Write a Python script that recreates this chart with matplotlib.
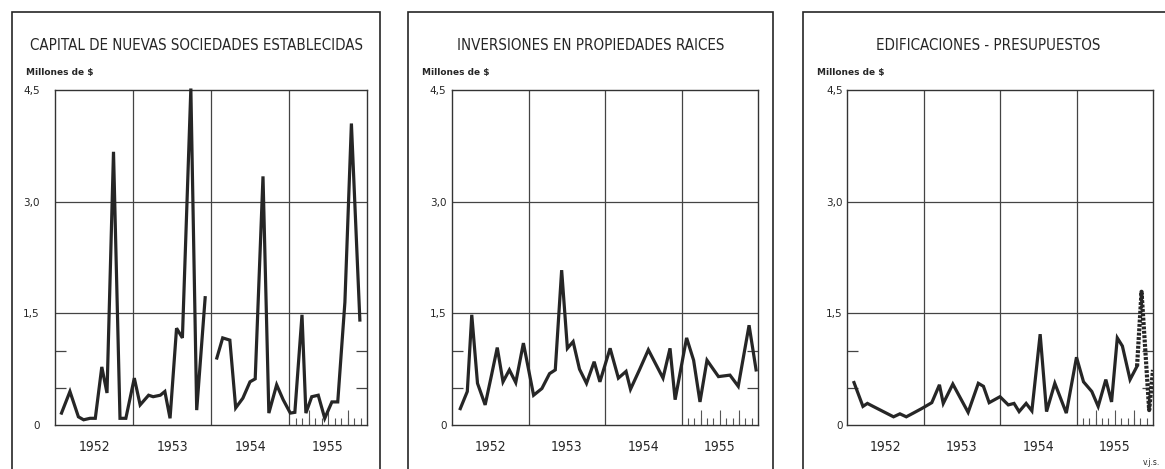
import numpy as np
import matplotlib
matplotlib.use("Agg")
import matplotlib.pyplot as plt
from matplotlib.patches import Rectangle
from matplotlib import font_manager as fm

# Datos (mes desde enero 1952, millones de $)
cap_mes = [1.0, 2.3, 3.6, 4.4, 5.4, 6.2, 7.2, 8.0, 9.0, 10.0, 10.9, 12.2, 13.1, 14.4, 15.1,
           16.2, 16.9, 17.7, 18.7, 19.6, 20.9, 21.8, 23.1, 24.0,
           24.9, 25.8, 26.9, 27.8, 28.9, 30.0, 30.8, 32.0, 32.9, 34.1, 35.1, 36.2, 36.9,
           38.0, 38.6, 39.5, 40.5, 41.5, 42.6, 43.5, 44.6, 45.6, 46.9]
cap_val = [0.16, 0.45, 0.11, 0.07, 0.09, 0.09, 0.78, 0.43, 3.67, 0.09, 0.09, 0.63, 0.27, 0.40, 0.38,
           0.40, 0.45, 0.09, 1.30, 1.17, 4.52, 0.20, 1.71, np.nan,
           0.90, 1.17, 1.14, 0.23, 0.36, 0.58, 0.62, 3.34, 0.16, 0.54, 0.34, 0.16, 0.17,
           1.48, 0.16, 0.38, 0.40, 0.09, 0.31, 0.31, 1.65, 4.05, 1.41]

inv_mes = [1.3, 2.4, 3.1, 4.0, 5.2, 6.2, 7.1, 8.0, 9.0, 10.0, 11.2, 12.8, 14.1, 15.3, 16.2,
           17.2, 18.1, 19.0, 20.0, 21.1, 22.3, 23.2, 24.8, 26.1, 27.3, 28.0, 29.4, 30.8,
           33.1, 34.2, 35.0, 36.8, 37.9, 38.9, 40.0, 41.8, 43.6, 44.9, 46.6, 47.7]
inv_val = [0.22, 0.45, 1.48, 0.56, 0.27, 0.67, 1.04, 0.58, 0.74, 0.57, 1.10, 0.40, 0.49, 0.69, 0.74,
           2.08, 1.03, 1.12, 0.75, 0.56, 0.85, 0.58, 1.03, 0.63, 0.72, 0.48, 0.74, 1.01,
           0.63, 1.03, 0.34, 1.17, 0.87, 0.31, 0.87, 0.65, 0.67, 0.52, 1.34, 0.74]

edi_mes = [1.1, 2.5, 3.2, 4.1, 5.7, 7.3, 8.3, 9.3, 10.4, 11.7, 13.3, 14.5, 15.1, 16.6, 19.0,
           20.6, 21.4, 22.3, 24.0, 25.3, 26.2, 27.0, 28.1, 29.0, 30.3, 31.3, 32.6, 34.4,
           36.0, 37.1, 38.4, 39.4, 40.6, 41.5, 42.4, 43.2, 44.4, 45.5, 46.2, 47.4, 48.0]
edi_val = [0.57, 0.25, 0.29, 0.25, 0.18, 0.11, 0.15, 0.11, 0.16, 0.22, 0.30, 0.54, 0.29, 0.55, 0.17,
           0.56, 0.52, 0.30, 0.38, 0.27, 0.29, 0.18, 0.29, 0.19, 1.22, 0.18, 0.56, 0.16,
           0.91, 0.58, 0.45, 0.25, 0.61, 0.31, 1.17, 1.06, 0.61, 0.79, 1.79, 0.20, 0.74]
edi_prelim = 37  # desde este punto la linea va punteada

titulos = ["CAPITAL DE NUEVAS SOCIEDADES ESTABLECIDAS",
           "INVERSIONES EN PROPIEDADES RAICES",
           "EDIFICACIONES - PRESUPUESTOS"]
anios = ["1952", "1953", "1954", "1955"]
yticks = [0, 1.5, 3.0, 4.5]
ylabels = ["0", "1,5", "3,0", "4,5"]

# fuente angosta si existe alguna
nombres = {f.name for f in fm.fontManager.ttflist}
condensadas = {f.name for f in fm.fontManager.ttflist if f.stretch in ("condensed", 700, 600)}
if "Liberation Sans Narrow" in nombres:
    tfont = dict(family="Liberation Sans Narrow", fontsize=11.5)
    yfont = 10.5
elif "DejaVu Sans" in condensadas:
    tfont = dict(family="DejaVu Sans", fontstretch="condensed", fontsize=10.8)
    yfont = 10
else:
    tfont = dict(family="DejaVu Sans", fontsize=9.2)
    yfont = 9

W, H = 1165, 469
fig = plt.figure(figsize=(W / 100, H / 100), dpi=100)
fig.patch.set_facecolor("white")

# posiciones en pixeles: eje (izq, ancho), marco (izq, der), pad etiquetas y
paneles = [(55, 312, 12, 380, 11), (452, 306, 408, 773, 4), (847, 306, 803, 1173, 3)]
series = [(cap_mes, cap_val), (inv_mes, inv_val), (edi_mes, edi_val)]
ink = "#262626"

for i, ((ax_l, ax_w, fr_l, fr_r, pad), (xm, yv)) in enumerate(zip(paneles, series)):
    fig.add_artist(Rectangle((fr_l / W, -0.05), (fr_r - fr_l) / W, (H - 12) / H + 0.05,
                             transform=fig.transFigure, fill=False, lw=1.2, ec=ink, clip_on=False))
    ax = fig.add_axes([ax_l / W, (H - 425) / H, ax_w / W, 335 / H])
    ax.set_xlim(0, 48)
    ax.set_ylim(0, 4.5)
    for s in ax.spines.values():
        s.set_linewidth(1.0)
        s.set_color("#333333")

    for y in yticks[1:3]:
        ax.axhline(y, color="#444444", lw=0.9, zorder=1)
    for k in range(1, len(anios)):
        ax.axvline(12 * k, color="#444444", lw=0.9, zorder=1)

    ax.set_yticks(yticks, ylabels, fontsize=7.5, color=ink)
    ax.set_yticks([0.5, 1.0], minor=True)
    ax.tick_params(axis="y", which="major", length=0, pad=pad)
    ax.tick_params(axis="y", which="minor", direction="in", length=8, left=True, right=True,
                   width=0.9, color="#444444")

    ax.set_xticks([12 * k + 6 for k in range(len(anios))], anios)
    ax.tick_params(axis="x", which="major", length=0, pad=11)
    for lab in ax.get_xticklabels():
        lab.set_family(tfont["family"])
        lab.set_fontstretch(tfont.get("fontstretch", "normal"))
        lab.set_fontsize(yfont)
        lab.set_color(ink)
    ax.set_xticks(np.arange(37, 48), minor=True)
    ax.tick_params(axis="x", which="minor", direction="in", length=5, width=0.8, color="#555555")
    ax.vlines([39, 42, 45], 0, 0.2, color="#555555", lw=0.8)

    if i == 2:
        ax.plot(xm[:edi_prelim + 1], yv[:edi_prelim + 1], color=ink, lw=2.3,
                solid_joinstyle="miter", zorder=3)
        ax.plot(xm[edi_prelim:], yv[edi_prelim:], color=ink, lw=3.0,
                linestyle=(0, (0.7, 0.35)), zorder=3)
    else:
        ax.plot(xm, yv, color=ink, lw=2.3, solid_joinstyle="miter", zorder=3, clip_on=False)

    cx = (fr_l + fr_r) / 2 / W
    fig.text(cx, 1 - 45 / H, titulos[i], ha="center", va="center", color=ink, **tfont)
    fig.text((fr_l + 14) / W, 1 - 73 / H, "Millones de $", ha="left", va="center",
             fontsize=6.5, fontweight="bold", color=ink)

fig.text(1160 / W, 1 - 462 / H, "v.j.s.", ha="right", va="center", fontsize=5.5, color=ink)

fig.savefig("out.png", dpi=100)
